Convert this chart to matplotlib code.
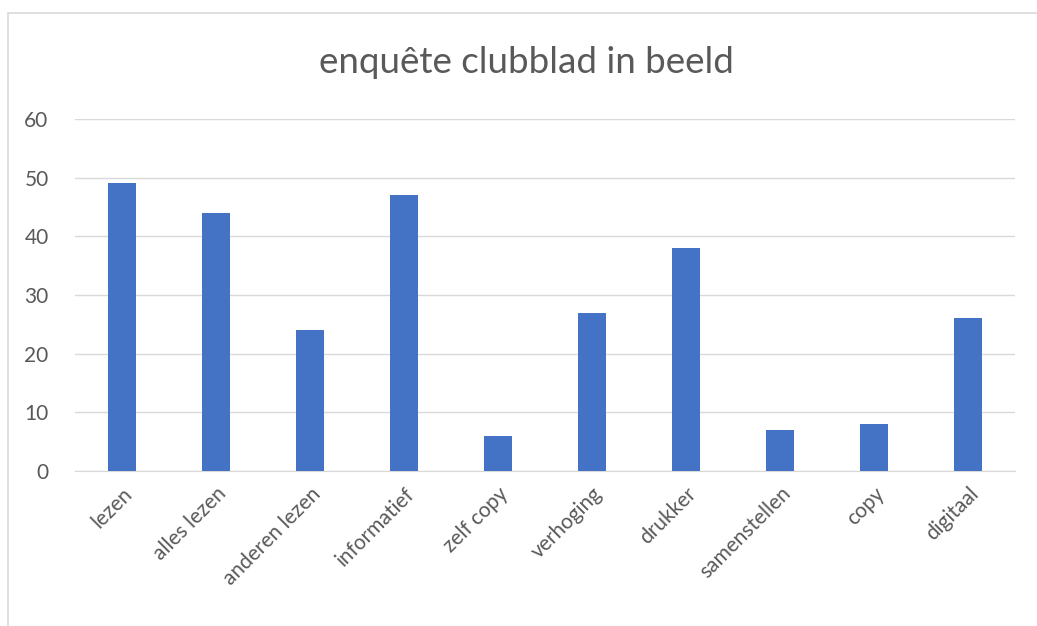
import matplotlib
matplotlib.use("Agg")
import matplotlib.pyplot as plt
from matplotlib.patches import Rectangle

categories = ["lezen", "alles lezen", "anderen lezen", "informatief", "zelf copy",
              "verhoging", "drukker", "samenstellen", "copy", "digitaal"]
values = [49, 44, 24, 47, 6, 27, 38, 7, 8, 26]
yticks = [0, 10, 20, 30, 40, 50, 60]
title = "enquête clubblad in beeld"

plt.rcParams['font.family'] = ['Lato', 'DejaVu Sans']

fig = plt.figure(figsize=(10.37, 6.26), dpi=100)
ax = fig.add_axes([0.0723, 0.2476, 0.9067, 0.5624])

# chart border
fig.patches.append(Rectangle((8 / 1037, -0.05), 1.1, 1 - 13 / 626 + 0.05,
                             transform=fig.transFigure, fill=False,
                             edgecolor="#D9D9D9", linewidth=1.2))

x = range(len(categories))
ax.bar(x, values, width=0.3, color="#4472C4", zorder=3)

ax.set_xlim(-0.5, len(categories) - 0.5)
ax.set_ylim(0, 60)
ax.set_yticks(yticks)
ax.set_xticks(list(x))
ax.set_xticklabels(categories, rotation=45, ha="right", rotation_mode="anchor")
ax.tick_params(axis="both", length=0, colors="#595959", labelsize=15)
ax.tick_params(axis="y", pad=19)
ax.tick_params(axis="x", pad=9)
ax.grid(axis="y", color="#D9D9D9", linewidth=1, zorder=0)
for s in ["top", "right", "left"]:
    ax.spines[s].set_visible(False)
ax.spines["bottom"].set_color("#D9D9D9")

fig.text(0.508, 0.9, title, ha="center", va="center", fontsize=26.5, color="#595959")

fig.savefig("out.png", dpi=100)
